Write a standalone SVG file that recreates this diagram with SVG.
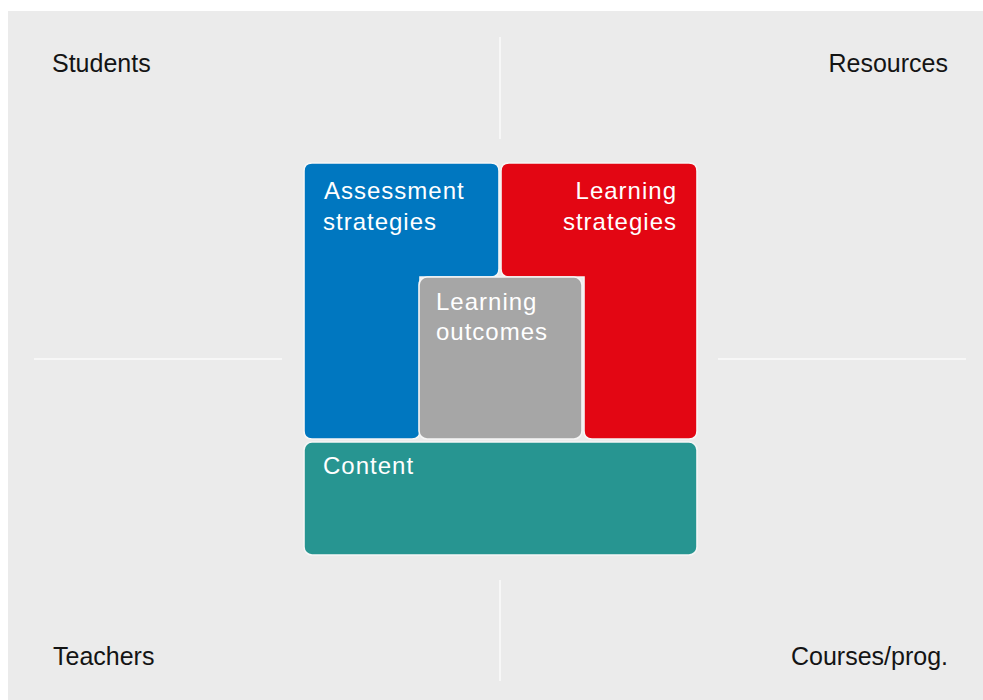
<svg xmlns="http://www.w3.org/2000/svg" width="983" height="700" viewBox="0 0 983 700">
<style>
.lbl{font-family:"Liberation Sans",Arial,sans-serif;font-size:25px;fill:#141414}
.in{font-family:"Liberation Sans",Arial,sans-serif;font-size:24px;fill:#ffffff;letter-spacing:1px}
.box{stroke:#f6f6f6;stroke-width:1.6}
.sep{stroke:#f7f7f7;stroke-width:2;fill:none}
</style>
<rect x="0" y="0" width="983" height="700" fill="#ffffff"/>
<rect x="8" y="11" width="975" height="689" fill="#ebebeb"/>
<g id="connectors">
<line class="sep" x1="500" y1="37" x2="500" y2="139"/>
<line class="sep" x1="500" y1="580" x2="500" y2="681"/>
<line class="sep" x1="34" y1="359" x2="282" y2="359"/>
<line class="sep" x1="718" y1="359" x2="966" y2="359"/>
</g>
<g id="students"><text class="lbl" x="52" y="72">Students</text></g>
<g id="resources"><text class="lbl" x="948" y="72" text-anchor="end">Resources</text></g>
<g id="teachers"><text class="lbl" x="53" y="665">Teachers</text></g>
<g id="courses"><text class="lbl" x="948" y="665" text-anchor="end">Courses/prog.</text></g>
<g id="assessment">
<path class="box" fill="#0077c0" d="M312,163 H491 Q499,163 499,171 V269 Q499,277 491,277 H420 V431 Q420,439 412,439 H312 Q304,439 304,431 V171 Q304,163 312,163 Z"/>
<text class="in" x="324" y="199">Assessment</text>
<text class="in" x="323" y="230">strategies</text>
</g>
<g id="learning-strategies">
<path class="box" fill="#e30613" d="M509,163 H689 Q697,163 697,171 V431 Q697,439 689,439 H592 Q584,439 584,431 V277 H509 Q501,277 501,269 V171 Q501,163 509,163 Z"/>
<text class="in" x="677" y="199" text-anchor="end">Learning</text>
<text class="in" x="677" y="230" text-anchor="end">strategies</text>
</g>
<g id="learning-outcomes">
<rect class="box" fill="#a6a6a6" x="419" y="277" width="163" height="162" rx="8"/>
<text class="in" x="436" y="310">Learning</text>
<text class="in" x="436" y="340">outcomes</text>
</g>
<g id="content">
<rect class="box" fill="#279591" x="304" y="442" width="393" height="113" rx="8"/>
<text class="in" x="323" y="474">Content</text>
</g>
</svg>
